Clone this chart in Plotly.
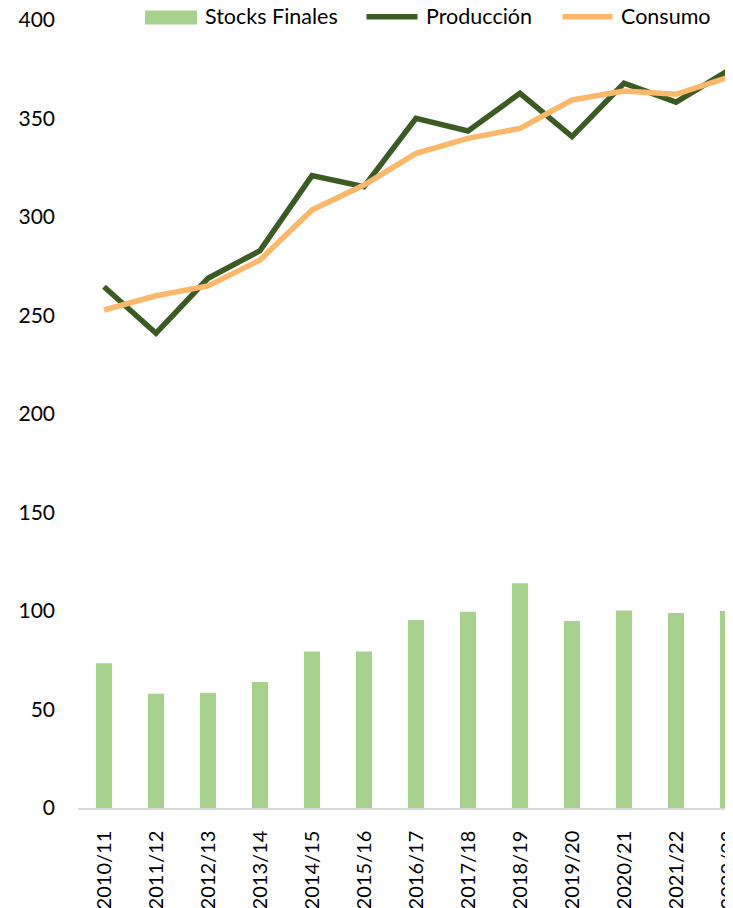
import plotly.graph_objects as go

campanas = ["2010/11", "2011/12", "2012/13", "2013/14", "2014/15", "2015/16", "2016/17",
            "2017/18", "2018/19", "2019/20", "2020/21", "2021/22", "2022/23"]
stocks_finales = [73.5, 58.0, 58.5, 64.0, 79.5, 79.5, 95.4, 99.6, 114.1, 94.9, 100.2, 99.0, 100.0]
produccion = [264.6, 241.0, 268.9, 282.9, 321.0, 315.4, 350.1, 343.7, 362.8, 340.8, 367.9, 358.3, 374.3]
consumo = [252.8, 260.0, 265.0, 278.2, 303.6, 316.2, 332.3, 339.9, 345.0, 359.4, 364.0, 362.3, 370.9]
y_ticks = [0, 50, 100, 150, 200, 250, 300, 350, 400]

FONT = "Lato"
FS = 21

C_STOCK = "#A9D18E"
C_PROD = "#3B5A24"
C_CONS = "#FBB76A"

OFF = 8  # page body margin
W, H = 733 - OFF, 908 - OFF
ML, MR, MT, MB = 78 - OFF, 0, 20 - OFF, 100
PW, PH = W - ML - MR, H - MT - MB


def px(x):
    # screen pixel -> paper fraction
    return (x - OFF - ML) / PW


def py(y):
    return (H - MB - (y - OFF)) / PH


idx = list(range(len(campanas)))

fig = go.Figure()
fig.add_trace(go.Bar(x=idx, y=stocks_finales, name="Stocks Finales",
                     marker=dict(color=C_STOCK, line=dict(width=0)), width=0.31))
fig.add_trace(go.Scatter(x=idx, y=produccion, name="Producción", mode="lines",
                         line=dict(color=C_PROD, width=5.5)))
fig.add_trace(go.Scatter(x=idx, y=consumo, name="Consumo", mode="lines",
                         line=dict(color=C_CONS, width=5.5)))

# legend drawn as shapes + text (positioned in paper coordinates)
legend_items = [
    ("Stocks Finales", C_STOCK, "rect", 145, 197, 203),
    ("Producción", C_PROD, "line", 364, 420, 424),
    ("Consumo", C_CONS, "line", 560, 615, 619),
]
shapes = []
annotations = []
for name, color, kind, x0, x1, xt in legend_items:
    if kind == "rect":
        shapes.append(dict(type="rect", xref="paper", yref="paper",
                           x0=px(x0), x1=px(x1), y0=py(24.5), y1=py(10.5),
                           fillcolor=color, line=dict(width=0), layer="above"))
    else:
        shapes.append(dict(type="line", xref="paper", yref="paper",
                           x0=px(x0 + 2.5), x1=px(x1 - 2.5), y0=py(16.7), y1=py(16.7),
                           line=dict(color=color, width=5.5), layer="above"))
    annotations.append(dict(text=name, xref="paper", yref="paper", x=px(xt), y=py(16.5),
                            xanchor="left", yanchor="middle", showarrow=False,
                            font=dict(family=FONT, size=21.5, color="#000000")))

fig.update_layout(
    width=W, height=H,
    margin=dict(l=ML, r=MR, t=MT, b=MB, autoexpand=False),
    paper_bgcolor="white", plot_bgcolor="white",
    font=dict(family=FONT, size=FS, color="#000000"),
    showlegend=False,
    shapes=shapes,
    annotations=annotations,
)
fig.update_xaxes(
    range=[-0.5, 12.096],
    tickmode="array", tickvals=idx, ticktext=campanas, tickangle=-90,
    tickfont=dict(size=20),
    showgrid=False, zeroline=False,
    showline=True, linecolor="#D9D9D9", linewidth=1.5,
    ticks="", ticklabelstandoff=13, ticklabeloverflow="allow", automargin=False,
)
fig.update_yaxes(
    range=[0, 400], tickmode="array", tickvals=y_ticks,
    showgrid=False, zeroline=False, showline=False,
    ticks="", ticklabelstandoff=22, ticklabeloverflow="allow", automargin=False,
)

fig.write_html("out.html")
